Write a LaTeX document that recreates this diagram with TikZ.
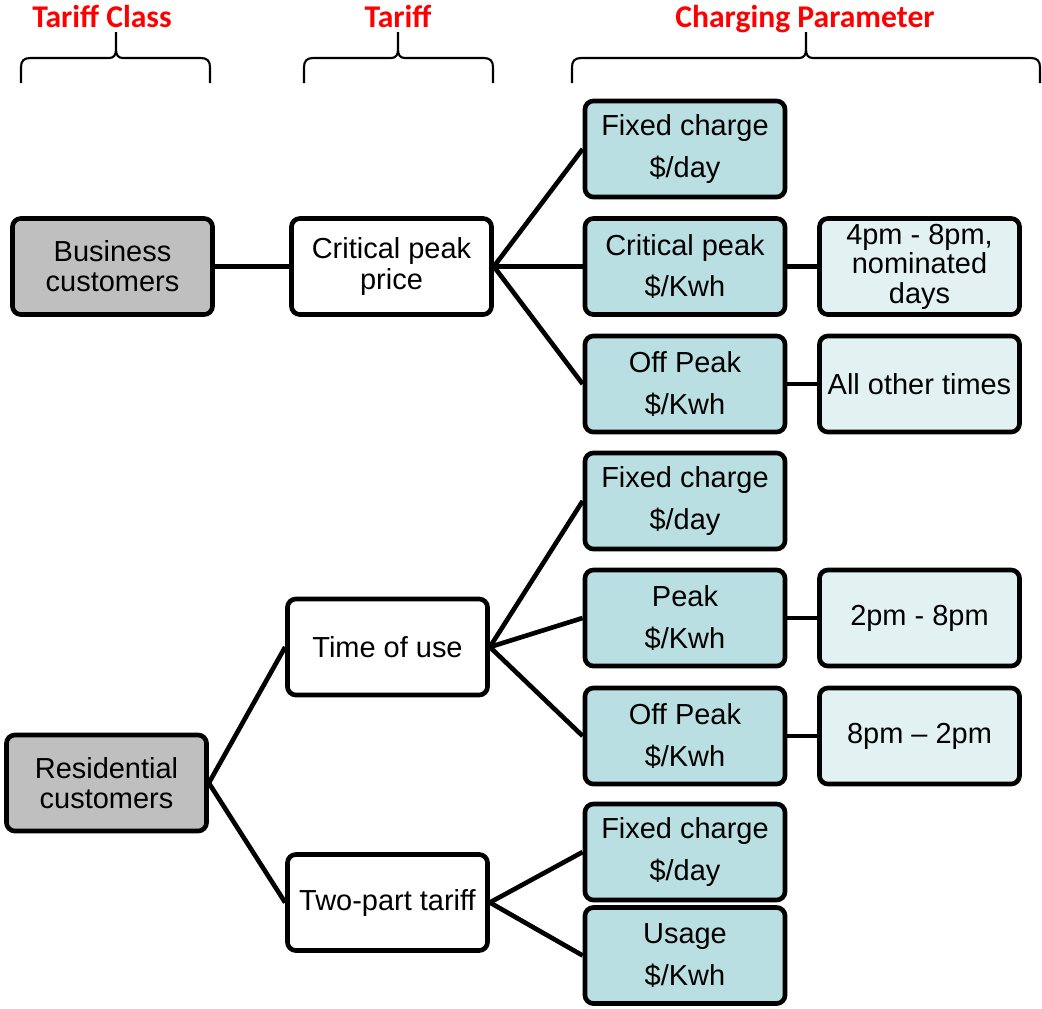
\documentclass[tikz,border=0pt]{standalone}
\usepackage{fontspec}
\setmainfont{Liberation Sans}
\newfontfamily\hdrfont{Carlito}
\usepackage{tikz}

\definecolor{parfill}{RGB}{186,223,226}
\definecolor{timefill}{RGB}{226,242,243}
\definecolor{classfill}{RGB}{191,191,191}
\definecolor{hdrred}{RGB}{255,0,0}

\tikzset{
	box/.style={draw, line width=3.3pt, rounded corners=6pt, minimum width=5cm, minimum height=2.4cm, align=center, inner sep=0pt, font=\fontsize{20.6}{21.4}\selectfont},
	classbox/.style={box, fill=classfill},
	tariffbox/.style={box, fill=white},
	parbox/.style={box, fill=parfill, font=\fontsize{20.6}{29.8}\selectfont},
	timebox/.style={box, fill=timefill, font=\fontsize{20.6}{21}\selectfont},
	link/.style={line width=3.3pt},
	hdr/.style={anchor=base, text=hdrred, font=\hdrfont\bfseries\fontsize{22.5}{27}\selectfont},
}

\begin{document}
\begin{tikzpicture}[x=0.025cm, y=-0.025cm]
			\useasboundingbox (0,0) rectangle (1042,1009);

			% headers
			\node[hdr] (hclass) at (102,27) {Tariff Class};
			\node[hdr] (htariff) at (398,27) {Tariff};
			\node[hdr] (hparam) at (805,27) {Charging Parameter};
			\foreach \l/\m/\r in {21/116/210, 304/398/493, 572/806/1040}
				\draw[line width=1.5pt] (\l,83) -- (\l,67) .. controls (\l,61) and (\l+3,58) .. (\l+9,58) -- (\m-7,58) .. controls (\m-2,58) and (\m,55) .. (\m,49) -- (\m,32)
					(\m,49) .. controls (\m,55) and (\m+2,58) .. (\m+7,58) -- (\r-9,58) .. controls (\r-3,58) and (\r,61) .. (\r,67) -- (\r,83);

			% tariff classes
			\node[classbox] (biz) at (112.5,266.5) {Business\\customers};
			\node[classbox] (res) at (106.5,783) {Residential\\customers};

			% tariffs
			\node[tariffbox] (cpp) at (391.5,266.5) {Critical peak\\price};
			\node[tariffbox] (tou) at (387.5,647) {Time of use};
			\node[tariffbox] (tpt) at (387.5,902.5) {Two-part tariff};

			% charging parameters
			\node[parbox] (fc1) at (685,149) {Fixed charge\\\$/day};
			\node[parbox] (cp) at (685,266.5) {Critical peak\\\$/Kwh};
			\node[parbox] (op1) at (685,384) {Off Peak\\\$/Kwh};
			\node[parbox] (fc2) at (685,501) {Fixed charge\\\$/day};
			\node[parbox] (pk) at (685,618) {Peak\\\$/Kwh};
			\node[parbox] (op2) at (685,736) {Off Peak\\\$/Kwh};
			\node[parbox] (fc3) at (685,852) {Fixed charge\\\$/day};
			\node[parbox] (use) at (685,955.5) {Usage\\\$/Kwh};

			% times
			\node[timebox] (cpt) at (919.5,266.5) {4pm - 8pm,\\nominated\\days};
			\node[timebox] (opt1) at (919.5,384) {All other times};
			\node[timebox] (pkt) at (919.5,618) {2pm - 8pm};
			\node[timebox] (opt2) at (919.5,736) {8pm -- 2pm};

			\draw[link] (biz.east) -- (cpp.west);
			\draw[link] (res.east) -- (tou.west);
			\draw[link] (res.east) -- (tpt.west);
			\draw[link] (cpp.east) -- (fc1.west);
			\draw[link] (cpp.east) -- (cp.west);
			\draw[link] (cpp.east) -- (op1.west);
			\draw[link] (tou.east) -- (fc2.west);
			\draw[link] (tou.east) -- (pk.west);
			\draw[link] (tou.east) -- (op2.west);
			\draw[link] (tpt.east) -- (fc3.west);
			\draw[link] (tpt.east) -- (use.west);
			\draw[link] (cp.east) -- (cpt.west);
			\draw[link] (op1.east) -- (opt1.west);
			\draw[link] (pk.east) -- (pkt.west);
			\draw[link] (op2.east) -- (opt2.west);
		\end{tikzpicture}
\end{document}
